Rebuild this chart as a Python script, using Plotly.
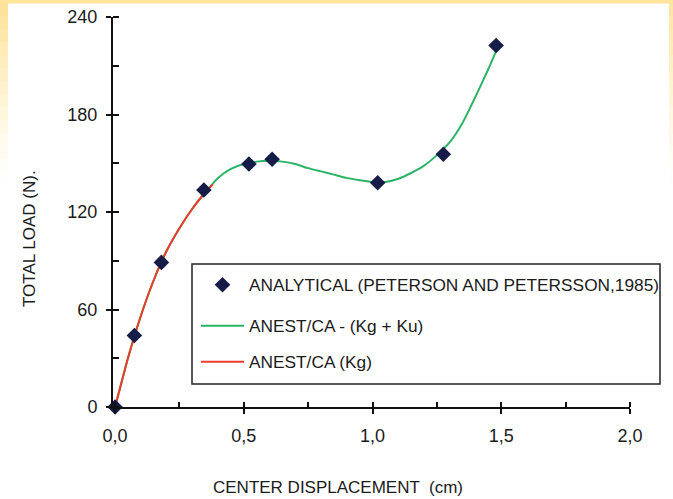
import plotly.graph_objects as go

# ---------------- data ----------------
analytical_x = [0.0, 0.075, 0.18, 0.345, 0.52, 0.61, 1.02, 1.275, 1.48]
analytical_y = [0, 44, 89, 133.5, 149.5, 152.5, 138, 155.5, 222.5]

kgku_x = [0, 0.05, 0.1, 0.15, 0.2, 0.25, 0.3, 0.35, 0.4, 0.45, 0.5, 0.55, 0.6,
          0.65, 0.7, 0.75, 0.8, 0.85, 0.9, 0.95, 1.0, 1.05, 1.1, 1.15, 1.2,
          1.25, 1.3, 1.35, 1.4, 1.45, 1.48]
kgku_y = [0, 30, 56, 78, 96, 110, 122, 132, 141, 146.5, 149.5, 151, 151.5,
          151, 149.5, 147, 145, 143, 141, 139.5, 138.5, 138.5, 140.5, 144, 148.5,
          155, 163, 175, 191, 208, 219]

kg_x = [0, 0.025, 0.05, 0.1, 0.15, 0.2, 0.25, 0.3, 0.35, 0.38]
kg_y = [0, 15, 30, 56, 78, 96, 110, 122, 132, 137]

x_ticks = [0.0, 0.5, 1.0, 1.5, 2.0]
y_ticks = [0, 60, 120, 180, 240]

names = ["ANALYTICAL (PETERSON AND PETERSSON,1985)",
         "ANEST/CA - (Kg + Ku)",
         "ANEST/CA (Kg)"]

# ---------------- geometry ----------------
W, H = 673, 499
L, R, T, B = 113, 43, 17, 92
PW, PH = W - L - R, H - T - B
FONT = "Liberation Sans, Arial, sans-serif"
TXT = "#1b1b1b"


def px(xp):
    return (xp - L) / PW


def py(yp):
    return (H - B - yp) / PH


fig = go.Figure()

fig.add_trace(go.Scatter(x=kgku_x, y=kgku_y, mode="lines", name=names[1],
                         line=dict(color="#2bb466", width=2, shape="spline", smoothing=0.5),
                         legend="legend2", cliponaxis=False))
fig.add_trace(go.Scatter(x=kg_x, y=kg_y, mode="lines", name=names[2],
                         line=dict(color="#ee3b2b", width=2, shape="spline", smoothing=0.5),
                         legend="legend3", cliponaxis=False))
fig.add_trace(go.Scatter(x=analytical_x, y=analytical_y, mode="markers", name=names[0],
                         marker=dict(symbol="diamond", size=12, color="#151c48"),
                         legend="legend", cliponaxis=False))
# empty trace to host the overlay axes (inner halves of crossing ticks)
fig.add_trace(go.Scatter(x=[], y=[], xaxis="x2", yaxis="y2", showlegend=False))

shapes = []
# yellow frame (top band and fading side bands)
shapes.append(dict(type="rect", xref="paper", yref="paper", x0=px(0), x1=px(W), y0=py(3.5), y1=py(0),
                   fillcolor="#fde59b", line=dict(width=0), layer="below"))
steps = 14
for i in range(steps):
    y0p, y1p = 3 + i * 13, 3 + (i + 1) * 13
    op = max(0.0, 1 - i / steps) ** 1.3
    shapes.append(dict(type="rect", xref="paper", yref="paper", x0=px(0), x1=px(8),
                       y0=py(y1p), y1=py(y0p), fillcolor="#fde39a", opacity=op,
                       line=dict(width=0), layer="below"))
    shapes.append(dict(type="rect", xref="paper", yref="paper", x0=px(669), x1=px(W),
                       y0=py(y1p), y1=py(y0p), fillcolor="#fde39a", opacity=op * 0.9,
                       line=dict(width=0), layer="below"))
# legend box
shapes.append(dict(type="rect", xref="paper", yref="paper", x0=px(192), x1=px(660),
                   y0=py(384), y1=py(264), fillcolor="white",
                   line=dict(color="#222", width=1.5), layer="above"))

leg_common = dict(xanchor="left", yanchor="middle", bgcolor="rgba(0,0,0,0)", borderwidth=0,
                  font=dict(family=FONT, size=17.3, color=TXT), itemwidth=43)

axis_font = dict(family=FONT, size=18, color=TXT)

fig.update_layout(
    template="none",
    width=W, height=H,
    margin=dict(l=L, r=R, t=T, b=B, autoexpand=False),
    paper_bgcolor="white", plot_bgcolor="white",
    separators=",.",
    showlegend=True,
    legend=dict(x=px(196), y=py(285), **leg_common),
    legend2=dict(x=px(196), y=py(326), **leg_common),
    legend3=dict(x=px(196), y=py(362), **leg_common),
    xaxis=dict(range=[-0.008, 2.0], tickvals=x_ticks, tickformat=".1f", automargin=False,
               ticks="outside", ticklen=5, tickwidth=2, tickcolor="#111",
               showline=True, linecolor="#111", linewidth=2, showgrid=False, zeroline=False,
               tickfont=axis_font, ticklabelstandoff=6,
               minor=dict(dtick=0.25, tick0=0, ticks="inside", ticklen=5, tickwidth=2,
                          tickcolor="#111", showgrid=False)),
    yaxis=dict(range=[0, 240], tickvals=y_ticks, automargin=False,
               ticks="outside", ticklen=5, tickwidth=2, tickcolor="#111",
               showline=True, linecolor="#111", linewidth=2, showgrid=False, zeroline=False,
               tickfont=axis_font, ticklabelstandoff=5,
               minor=dict(dtick=30, tick0=0, ticks="inside", ticklen=6, tickwidth=2,
                          tickcolor="#111", showgrid=False)),
    xaxis2=dict(overlaying="x", anchor="y", side="bottom", range=[-0.008, 2.0], tickvals=x_ticks,
                ticks="inside", ticklen=5, tickwidth=2, tickcolor="#111", automargin=False,
                showticklabels=False, showline=False, showgrid=False, zeroline=False),
    yaxis2=dict(overlaying="y", anchor="x", side="left", range=[0, 240], tickvals=y_ticks,
                ticks="inside", ticklen=6, tickwidth=2, tickcolor="#111", automargin=False,
                showticklabels=False, showline=False, showgrid=False, zeroline=False),
    shapes=shapes,
    annotations=[
        dict(text="CENTER DISPLACEMENT  (cm)", xref="paper", yref="paper",
             x=px(338), y=py(487), showarrow=False, xanchor="center", yanchor="middle",
             font=dict(family=FONT, size=17, color=TXT)),
        dict(text="TOTAL LOAD (N).", xref="paper", yref="paper", textangle=-90,
             x=px(29), y=py(239), showarrow=False, xanchor="center", yanchor="middle",
             font=dict(family=FONT, size=17, color=TXT)),
    ],
)

fig.write_html("out.html",
               config={"displayModeBar": False},
               post_script="document.body.style.margin='0';document.body.style.overflow='hidden';")
